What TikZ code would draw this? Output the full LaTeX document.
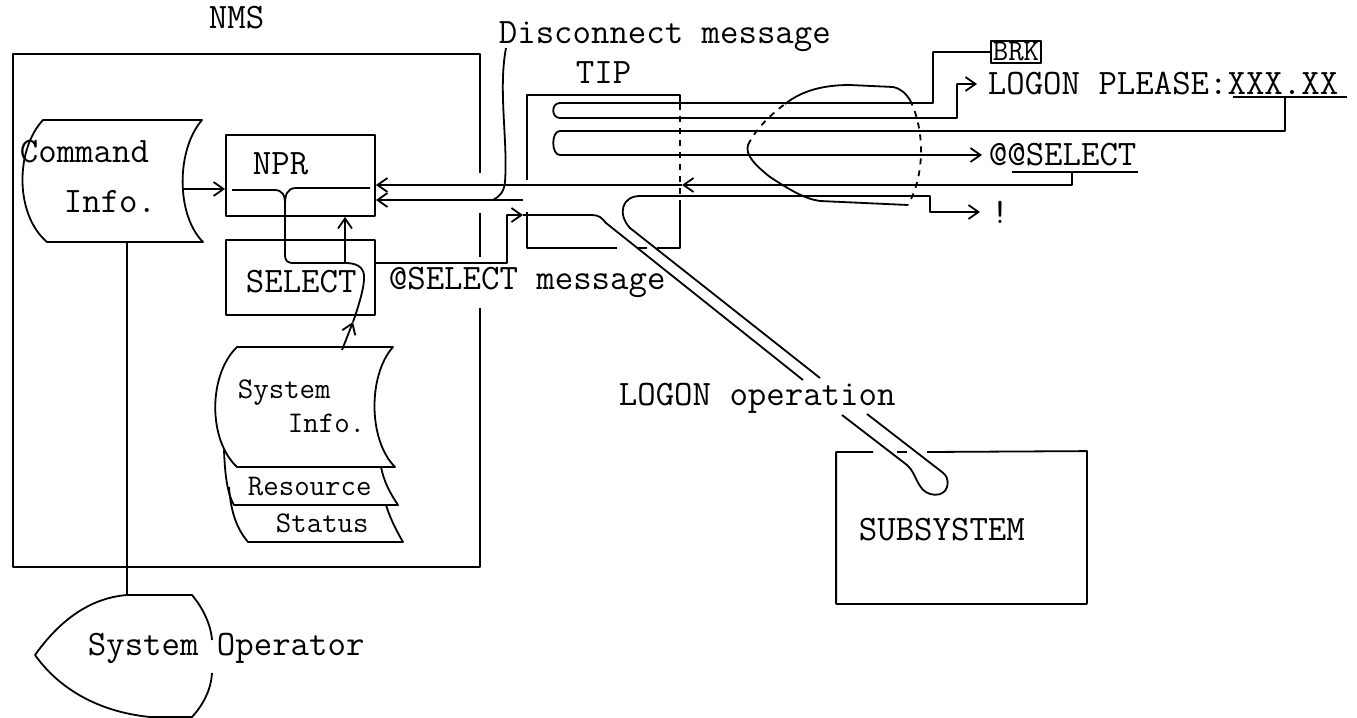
\documentclass[tikz,border=0pt]{standalone}
\usepackage{fontspec}
\usepackage{tikz}
\usetikzlibrary{arrows.meta, positioning, calc}
\newcommand{\diagfont}{\ttfamily\fontsize{17.9}{20}\selectfont}
\newcommand{\diagsmall}{\ttfamily\fontsize{15}{17}\selectfont}
\tikzset{
    lbl/.style={inner sep=0pt, anchor=west, font=\diagfont},
    smalllbl/.style={inner sep=0pt, anchor=west, font=\diagsmall},
    module/.style={rectangle, draw, inner sep=0pt, minimum width=74.5pt},
    keybox/.style={rectangle, draw, inner sep=0.8pt, font=\diagsmall},
    arrowline/.style={-{Straight Barb[length=5pt, width=7pt]}}
}

\begin{document}
\begin{tikzpicture}[x=0.5pt, y=-0.5pt, line width=0.9pt, line join=round]
  \useasboundingbox (0,0) rectangle (1357,718);

  \node[lbl] (nmslbl) at (208,18) {NMS};
  \coordinate (nmsNW) at (13,54);
  \coordinate (nmsSE) at (480,567);
  \draw (480,173) |- (nmsNW) |- (nmsSE) -- (480,308);
  \draw (480,213) -- (480,257);

  \draw (43,120) -- (202,120) .. controls (176,150) and (176,215) .. (203,242) -- (47,242) .. controls (15,215) and (15,150) .. cycle;
  \node[lbl] (cmd) at (19,152) {Command};
  \node[lbl] (cmdinfo) at (63,202) {Info.};
  \coordinate (cmdout) at (182,189);
  \coordinate (cmdbot) at (127,242);

  \node[module, minimum height=40.5pt] (npr) at (300.5,175.5) {};
  \node[lbl] (nprlbl) at (252,164) {NPR};
  \node[module, minimum height=37.5pt] (select) at (300.5,277.5) {};
  \node[lbl] (sellbl) at (245,282) {SELECT};
  \draw[arrowline] (cmdout) -- (npr.west |- cmdout);

  \coordinate (jdown) at (285,205);
  \coordinate (jup) at (345,263);
  \draw (232,190) -- (274,190) .. controls (283,190) and (285,195) .. (jdown);
  \draw (370,188) -- (296,188) .. controls (287,188) and (285,195) .. (jdown);
  \draw (jdown) -- (285,254) .. controls (285,261) and (287,263) .. (294,263) -- (jup);
  \draw[arrowline] (jup) -- (jup |- npr.south);

  \draw (237,347) -- (393,347) .. controls (368,375) and (368,440) .. (395,467) -- (237,467) .. controls (208,440) and (208,375) .. cycle;
  \draw (224,450) .. controls (225,478) and (228,495) .. (234,505) -- (398,505) .. controls (390,493) and (384,482) .. (381,467);
  \draw (229,487) .. controls (231,515) and (238,530) .. (248,542) -- (403,542) .. controls (396,530) and (390,518) .. (386,505);
  \node[smalllbl] (sysinfoA) at (237,393) {System};
  \node[smalllbl] (sysinfoB) at (287,423) {Info.};
  \node[smalllbl] (resource) at (247,487) {Resource};
  \node[smalllbl] (status) at (275,523) {Status};
  \coordinate (sysout) at (342,350);
  \coordinate (selin) at (353,322);
  \draw[arrowline] (sysout) -- (selin);
  \draw (selin) .. controls (359,305) and (365,285) .. (364,275) .. controls (363,266) and (355,263) .. (jup);

  \draw (cmdbot) -- (127,595);
  \draw (127,595) -- (192,595) .. controls (203,608) and (211,625) .. (212,640);
  \draw (212,673) .. controls (211,690) and (203,705) .. (192,717) -- (150,717) .. controls (100,712) and (60,690) .. (35,655) .. controls (60,620) and (90,598) .. (127,595);
  \node[lbl] (operator) at (87,648) {System Operator};

  \node[lbl] (disc) at (498,37) {Disconnect message};
  \coordinate (discin) at (523,200);
  \draw[arrowline] (discin) -- (npr.east |- discin);
  \draw (506,48) .. controls (498,90) and (508,140) .. (505,182) .. controls (504,192) and (500,196) .. (493,200);

  \node[lbl] (tiplbl) at (575,73) {TIP};
  \draw (527,180) -- (527,95) -- (680,95) -- (680,104);
  \draw[dashed] (680,104) -- (680,203);
  \draw (680,203) -- (680,248) -- (657,248);
  \draw (647,248) -- (638,248);
  \draw (617,248) -- (527,248) -- (527,212);

  \draw (785,104) .. controls (805,88) and (830,85) .. (850,85) -- (893,87) .. controls (902,89) and (906,94) .. (910,100);
  \draw[dashed] (910,100) .. controls (925,130) and (925,175) .. (908,205);
  \draw (908,205) -- (820,201) .. controls (805,199) and (790,190) .. (770,177) .. controls (755,165) and (745,155) .. (748,145);
  \draw[dashed] (748,145) .. controls (755,130) and (770,115) .. (785,104);

  \node[keybox] (brk) at (1016,52) {BRK};
  \node[lbl] (logon) at (987,84) {LOGON PLEASE:XXX.XX};
  \draw (1233,97) -- (1347,97);
  \node[lbl] (atsel) at (988,155) {@@SELECT};
  \draw (1012,172) -- (1138,172);
  \node[lbl] (bang) at (990,212) {!};

  \draw[arrowline] (brk.west) -| (933,103) -- (560,103) .. controls (551,103) and (551,118) .. (560,118) -| ([xshift=-15pt]logon.west) -- ([xshift=-5pt]logon.west);
  \draw[arrowline] (1285,97) -- (1285,131) -- (560,131) .. controls (551,131) and (551,155) .. (560,155) -- ([xshift=-3pt]atsel.west);
  \coordinate (selret) at (682,185);
  \draw[arrowline] (1072,172) |- (selret);
  \draw[arrowline] (selret) -- (npr.east |- selret);

  \node[lbl] (selmsg) at (388,282) {@SELECT message};
  \coordinate (tipin) at (523,215);
  \draw[arrowline] (select.east |- jup) -- (507,263) -- (507,215) -- (tipin);
  \draw (tipin) -- (592,215) .. controls (599,215) and (602,218) .. (606,223) -- (803,380);
  \draw (842,415) -- (907,465) .. controls (913,470) and (915,478) .. (920,486) .. controls (926,497) and (944,498) .. (947,487) .. controls (949,479) and (946,475) .. (942,472) -- (867,414);
  \draw[arrowline] (820,378) -- (630,228) .. controls (617,214) and (622,196) .. (640,196) -- (930,196) |- ([xshift=-5pt]bang.west);
  \node[lbl] (logonop) at (618,398) {LOGON operation};

  \node[inner sep=0pt, minimum width=124.5pt, minimum height=75.5pt] (subsys) at (961.5,527.5) {};
  \node[lbl] (subsyslbl) at (858,530) {SUBSYSTEM};
  \draw (873,452) -| (subsys.south west) -| (subsys.north east) -- (927,452);
  \draw (897,452) -- (907,452);
\end{tikzpicture}
\end{document}
